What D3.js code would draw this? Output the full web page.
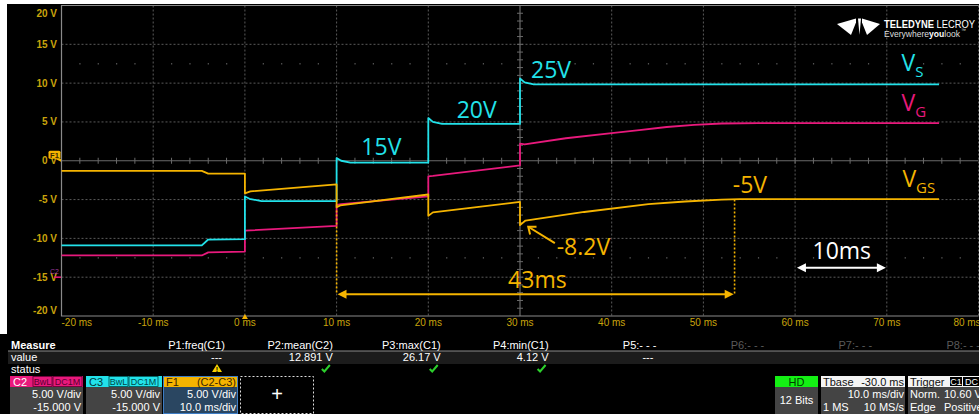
<!DOCTYPE html>
<html>
<head>
<meta charset="utf-8">
<script src="https://cdn.jsdelivr.net/npm/d3@7"></script>
<style>
  body { margin: 0; background: #000; }
  svg { display: block; }
</style>
</head>
<body>
<div id="scope"></div>
<script>
// axis ticks (ms / V)
const timeTicks = [-20, -10, 0, 10, 20, 30, 40, 50, 60, 70, 80];
const voltTicks = [20, 15, 10, 5, 0, -5, -10, -15, -20];

// traces, [time ms, displayed volts]
const vsTrace = [[-20, -10.9], [-4.7, -10.9], [-4.0, -10.15], [0, -10.1], [0, -4.6], [0.5, -4.9], [1.8, -5.2], [10, -5.2],
  [10, 0.35], [10.5, 0.0], [11.5, -0.25], [20, -0.25], [20, 5.5], [20.5, 5.0], [21.5, 4.75], [30, 4.75],
  [30, 10.6], [30.5, 10.1], [31.5, 9.85], [75.7, 9.85]];
const vgTrace = [[-20, -12.2], [-4.7, -12.2], [-4.0, -11.8], [0, -11.7], [0, -9.0], [10, -8.4],
  [10, -5.7], [10.5, -5.6], [20, -4.6], [20, -2.0], [20.5, -1.95], [30, -0.6],
  [30, 2.2], [30.5, 2.1], [35, 2.9], [40, 3.55], [43, 3.95], [46, 4.35], [49, 4.62], [52, 4.8], [56, 4.85], [75.7, 4.85]];
const vgsTrace = [[-20, -1.3], [-4.7, -1.3], [-4.0, -1.65], [0, -1.65], [0, -4.2], [0.6, -3.95], [10, -3.05],
  [10, -6.0], [10.4, -5.75], [20, -4.35], [20, -7.1], [20.5, -6.65], [30, -5.3],
  [30, -8.3], [30.6, -7.7], [37, -6.6], [44, -5.6], [48, -5.25], [52, -5.02], [54, -4.95], [75.7, -4.95]];

// measurement table
const measureNames = ["P1:freq(C1)", "P2:mean(C2)", "P3:max(C1)", "P4:min(C1)", "P5:- - -", "P6:- - -", "P7:- - -", "P8:- - -"];
const measureValues = ["---", "12.891 V", "26.17 V", "4.12 V", "---", "", "", ""];
const measureStatus = ["warn", "ok", "ok", "ok", "", "", "", ""];

// channel descriptor boxes
const chanNames = ["C2", "C3", "F1"];
const chanTags = [["BwL", "DC1M"], ["BwL", "DC1M"], ["(C2-C3)"]];
const chanLines = [["5.00 V/div", "-15.000 V"], ["5.00 V/div", "-15.000 V"], ["5.00 V/div", "10.0 ms/div"]];

const W = 979, H = 414;
const CYAN = "#22e2ea", MAGENTA = "#e8197c", YELLOW = "#f5b400", TICKCOL = "#c9a40c";

const svg = d3.select("#scope").append("svg")
    .attr("width", W)
    .attr("height", H)
    .style("font-family", "'Liberation Sans', Arial, sans-serif");

// screenshot border + black screen
svg.append("rect").attr("width", W).attr("height", H).attr("fill", "#fff");
svg.append("rect").attr("x", 7).attr("y", 4).attr("width", W - 7).attr("height", H - 4).attr("fill", "#000");
svg.append("rect").attr("x", 0).attr("y", 334).attr("width", W).attr("height", H - 334).attr("fill", "#000");

const x = d3.scaleLinear().domain([-20, 80]).range([61.5, 978.5]);
const y = d3.scaleLinear().domain([20, -20]).range([5.5, 316]);

const grid = svg.append("g");

// dotted major grid
grid.selectAll(".vg").data(timeTicks.filter(t => t !== 30 && t !== -20))
  .enter().append("line")
    .attr("x1", d => x(d)).attr("x2", d => x(d))
    .attr("y1", y(20)).attr("y2", y(-20))
    .attr("stroke", "#5a5a5a").attr("stroke-dasharray", "2,2");
grid.selectAll(".hg").data(voltTicks.filter(v => v !== 0 && v !== -20))
  .enter().append("line")
    .attr("x1", x(-20)).attr("x2", x(80))
    .attr("y1", d => y(d)).attr("y2", d => y(d))
    .attr("stroke", "#5a5a5a").attr("stroke-dasharray", "2,2");

// faint dot rows
[12.5, -12.5].forEach(v => {
  d3.range(-18, 80, 2).filter(t => t % 10 !== 0).forEach(t => {
    grid.append("rect").attr("x", x(t) - 0.5).attr("y", y(v) - 0.5)
      .attr("width", 1.2).attr("height", 1.2).attr("fill", "#6a6a6a");
  });
});

// center lines with minor ticks
grid.append("line").attr("x1", x(-20)).attr("x2", x(80)).attr("y1", y(0)).attr("y2", y(0))
  .attr("stroke", "#6a6a6a").attr("stroke-width", 1.2);
grid.append("line").attr("x1", x(30)).attr("x2", x(30)).attr("y1", y(20)).attr("y2", y(-20))
  .attr("stroke", "#6a6a6a").attr("stroke-width", 1.2);
grid.selectAll(".mt").data(d3.range(-18, 80, 2))
  .enter().append("line")
    .attr("x1", d => x(d)).attr("x2", d => x(d))
    .attr("y1", y(0) - 3).attr("y2", y(0) + 3)
    .attr("stroke", "#6a6a6a");
grid.selectAll(".mv").data(d3.range(-19, 20, 1))
  .enter().append("line")
    .attr("x1", x(30) - 3).attr("x2", x(30) + 3)
    .attr("y1", d => y(d)).attr("y2", d => y(d))
    .attr("stroke", "#6a6a6a");

// frame
grid.append("path")
  .attr("d", `M${x(80)},${y(20)}H${x(-20)}V${y(-20)}H${x(80)}`)
  .attr("fill", "none").attr("stroke", "#8a8a8a").attr("stroke-width", 1.2);

// tick labels (end labels pulled inside the screen like the scope does)
svg.append("g").selectAll("text").data(voltTicks)
  .enter().append("text")
    .attr("x", 57)
    .attr("y", d => d === 20 ? 16.5 : d === -20 ? y(d) - 2 : y(d) + 3.5)
    .attr("text-anchor", "end")
    .attr("font-size", 10).attr("font-weight", "bold")
    .attr("fill", TICKCOL)
    .text(d => d + " V");
svg.append("g").selectAll("text").data(timeTicks)
  .enter().append("text")
    .attr("x", d => d === -20 ? x(d) : Math.min(x(d), 967))
    .attr("y", 326)
    .attr("text-anchor", d => d === -20 ? "start" : "middle")
    .attr("font-size", 10)
    .attr("fill", TICKCOL)
    .text(d => d + " ms");

// traces
const line = d3.line().x(d => x(d[0])).y(d => y(d[1]));
[[vgTrace, MAGENTA], [vsTrace, CYAN], [vgsTrace, YELLOW]].forEach(([tr, col]) => {
  svg.append("path").datum(tr)
    .attr("d", line)
    .attr("fill", "none")
    .attr("stroke", col)
    .attr("stroke-width", 1.8)
    .attr("stroke-linejoin", "round");
});

// channel markers on the left edge
const f1m = svg.append("g");
f1m.append("rect").attr("x", 48.5).attr("y", y(0) - 10).attr("width", 12).attr("height", 8)
  .attr("rx", 1.5).attr("fill", YELLOW);
f1m.append("path").attr("d", `M55,${y(0) - 2}L61,${y(0) - 2}L61,${y(0) + 1}Z`).attr("fill", YELLOW);
f1m.append("text").attr("x", 54.5).attr("y", y(0) - 3.2).attr("text-anchor", "middle")
  .attr("font-size", 7.5).attr("font-weight", "bold").attr("fill", "#3a2a00").text("F1");
svg.append("text").attr("x", 50).attr("y", y(-15) - 3).attr("font-size", 7)
  .attr("fill", "#9a3a9a").text("C2");
svg.append("line").attr("x1", 54).attr("x2", 61).attr("y1", y(-15)).attr("y2", y(-15))
  .attr("stroke", MAGENTA).attr("stroke-width", 1.5);
// trigger marker
svg.append("path").attr("d", `M${x(0) - 3},${y(-20) + 3}L${x(0) + 3},${y(-20) + 3}L${x(0)},${y(-20) - 2}Z`)
  .attr("fill", YELLOW);

// annotations
const ann = svg.append("g").style("font-family", "'Open Sans', sans-serif");
function note(t, v, txt, col, size) {
  return ann.append("text").attr("x", x(t)).attr("y", y(v))
    .attr("font-size", size || 23).attr("fill", col).text(txt);
}
note(12.7, 0.7, "15V", CYAN);
note(23.1, 5.45, "20V", CYAN);
note(31.2, 10.6, "25V", CYAN);
note(53.2, -4.15, "-5V", YELLOW);
note(34.0, -12.1, "-8.2V", YELLOW);
note(28.7, -16.4, "43ms", YELLOW);
note(61.9, -12.6, "10ms", "#fff");

function subLabel(t, v, main, sub, col) {
  const tx = ann.append("text").attr("x", x(t)).attr("y", y(v)).attr("fill", col);
  tx.append("tspan").attr("font-size", 23).text(main);
  tx.append("tspan").attr("font-size", 15).attr("dy", 6).text(sub);
}
subLabel(71.6, 11.6, "V", "S", CYAN);
subLabel(71.6, 6.4, "V", "G", MAGENTA);
subLabel(71.7, -3.4, "V", "GS", YELLOW);

// -8.2V pointer
svg.append("line").attr("x1", x(33.8)).attr("y1", y(-10.6)).attr("x2", x(30.9)).attr("y2", y(-8.5))
  .attr("stroke", YELLOW).attr("stroke-width", 2);
svg.append("path")
  .attr("d", `M${x(31.8)},${y(-8.5)}L${x(30.9)},${y(-8.5)}L${x(31.1)},${y(-9.5)}`)
  .attr("fill", "none").attr("stroke", YELLOW).attr("stroke-width", 2);

// 43 ms span
svg.append("line").attr("x1", x(10)).attr("x2", x(10)).attr("y1", y(-6.4)).attr("y2", y(-17.1))
  .attr("stroke", YELLOW).attr("stroke-width", 1.6).attr("stroke-dasharray", "2,2");
svg.append("line").attr("x1", x(53.4)).attr("x2", x(53.4)).attr("y1", y(-5)).attr("y2", y(-17.1))
  .attr("stroke", YELLOW).attr("stroke-width", 1.6).attr("stroke-dasharray", "2,2");
function hArrow(t0, t1, v, col) {
  const yy = y(v), a = x(t0), b = x(t1);
  svg.append("line").attr("x1", a + 6).attr("x2", b - 6).attr("y1", yy).attr("y2", yy)
    .attr("stroke", col).attr("stroke-width", 2);
  svg.append("path").attr("d", `M${a},${yy}L${a + 9},${yy - 4.5}L${a + 9},${yy + 4.5}Z`).attr("fill", col);
  svg.append("path").attr("d", `M${b},${yy}L${b - 9},${yy - 4.5}L${b - 9},${yy + 4.5}Z`).attr("fill", col);
}
hArrow(10.1, 53.3, -17.2, YELLOW);
hArrow(60.2, 69.9, -13.8, "#fff");

// logo
const logo = svg.append("g");
logo.append("path").attr("d", "M837,24 L856,18.5 L856,22.5 L851,35 Z").attr("fill", "#fff");
logo.append("path").attr("d", "M858,18.5 L859.5,35 L861,18.5 Z").attr("fill", "#fff");
logo.append("path").attr("d", "M880,24 L862,18.5 L862,22.5 L867,35 Z").attr("fill", "#fff");
const lt = logo.append("text").attr("x", 884).attr("y", 27.5).attr("font-size", 10.5).attr("fill", "#fff")
  .attr("textLength", 91).attr("lengthAdjust", "spacingAndGlyphs");
lt.append("tspan").attr("font-weight", "bold").text("TELEDYNE ");
lt.append("tspan").text("LECROY");
const lt2 = logo.append("text").attr("x", 884).attr("y", 36.5).attr("font-size", 9).attr("fill", "#ddd")
  .attr("textLength", 76).attr("lengthAdjust", "spacingAndGlyphs");
lt2.append("tspan").text("Everywhere");
lt2.append("tspan").attr("font-weight", "bold").attr("fill", "#fff").text("you");
lt2.append("tspan").text("look");
logo.append("text").attr("x", 961).attr("y", 32).attr("font-size", 5).attr("fill", "#ddd").text("™");

// ---- measurement table ----
const panel = svg.append("g").attr("font-size", 11);
panel.append("rect").attr("x", 8).attr("y", 351).attr("width", W - 8).attr("height", 13).attr("fill", "#1c1c1c");
panel.append("line").attr("x1", 8).attr("x2", W).attr("y1", 351).attr("y2", 351).attr("stroke", "#8a8a8a");
panel.append("text").attr("x", 11).attr("y", 349).attr("font-weight", "bold").attr("fill", "#fff").text("Measure");
panel.append("text").attr("x", 11).attr("y", 361).attr("fill", "#fff").text("value");
panel.append("text").attr("x", 11).attr("y", 373).attr("fill", "#fff").text("status");

const colEnd = d3.scaleLinear().domain([0, 7]).range([225, 980]);
panel.selectAll(".mh").data(measureNames)
  .enter().append("text")
    .attr("x", (d, i) => colEnd(i)).attr("y", 349)
    .attr("text-anchor", "end")
    .attr("fill", (d, i) => i > 4 ? "#5a5a5a" : "#fff")
    .text(d => d);
panel.selectAll(".mv").data(measureValues)
  .enter().append("text")
    .attr("x", (d, i) => d === "---" ? colEnd(i) - 3 : colEnd(i)).attr("y", 361)
    .attr("text-anchor", "end")
    .attr("fill", "#fff")
    .text(d => d);
measureStatus.forEach((s, i) => {
  const cx = colEnd(i) - (i === 0 ? 8 : 7);
  if (s === "warn") {
    panel.append("path").attr("d", `M${cx},${364}L${cx + 5},${372}L${cx - 5},${372}Z`).attr("fill", "#f5d000");
    panel.append("text").attr("x", cx).attr("y", 371.5).attr("text-anchor", "middle")
      .attr("font-size", 7).attr("font-weight", "bold").attr("fill", "#000").text("!");
  } else if (s === "ok") {
    panel.append("path").attr("d", `M${cx - 4},${369}L${cx - 1.5},${371.5}L${cx + 4},${365}`)
      .attr("fill", "none").attr("stroke", "#2ccf2c").attr("stroke-width", 2);
  }
});

// channel boxes
const boxX = [10, 86, 163], boxW = [73, 76, 75];
const headCol = [MAGENTA, CYAN, YELLOW], headText = ["#fff", "#003a3a", "#3a2400"];
const tagText = ["#5a0030", "#004848", "#3a2400"];
chanNames.forEach((nm, i) => {
  const g = panel.append("g");
  const bx = boxX[i], bw = boxW[i];
  g.append("rect").attr("x", bx).attr("y", 387).attr("width", bw).attr("height", 27)
    .attr("fill", i === 2 ? "#2a4661" : "#444");
  g.append("rect").attr("x", bx).attr("y", 376).attr("width", bw).attr("height", 11).attr("fill", headCol[i]);
  if (i === 2) {
    g.append("rect").attr("x", bx + 0.5).attr("y", 376.5).attr("width", bw - 1).attr("height", 37)
      .attr("fill", "none").attr("stroke", "#3d7cc4");
  }
  g.append("text").attr("x", bx + 3).attr("y", 386).attr("fill", headText[i]).text(nm);
  if (i < 2) {
    let tx = bx + 23;
    chanTags[i].forEach((tg, k) => {
      const w = k === 0 ? 19 : 29;
      g.append("rect").attr("x", tx).attr("y", 376.5).attr("width", w).attr("height", 10)
        .attr("fill", "none").attr("stroke", tagText[i]).attr("stroke-width", 0.8);
      g.append("text").attr("x", tx + w / 2).attr("y", 385).attr("text-anchor", "middle")
        .attr("font-size", 9).attr("fill", tagText[i]).text(tg);
      tx += w + 1;
    });
  } else {
    g.append("text").attr("x", bx + bw - 2).attr("y", 386).attr("text-anchor", "end")
      .attr("fill", tagText[i]).text(chanTags[i][0]);
  }
  chanLines[i].forEach((ln, k) => {
    g.append("text").attr("x", bx + bw - 2).attr("y", 398 + k * 13).attr("text-anchor", "end")
      .attr("fill", "#fff").text(ln);
  });
});

// "+" box
panel.append("rect").attr("x", 240.5).attr("y", 376.5).attr("width", 73).attr("height", 37)
  .attr("fill", "none").attr("stroke", "#ddd").attr("stroke-dasharray", "2,2");
panel.append("text").attr("x", 277).attr("y", 401).attr("text-anchor", "middle")
  .attr("font-size", 20).attr("fill", "#fff").text("+");

// HD box
panel.append("rect").attr("x", 775).attr("y", 376).attr("width", 43).attr("height", 38).attr("fill", "#444");
panel.append("rect").attr("x", 775).attr("y", 376).attr("width", 43).attr("height", 11).attr("fill", "#14f014");
panel.append("text").attr("x", 796.5).attr("y", 386).attr("text-anchor", "middle").attr("fill", "#003a00").text("HD");
panel.append("text").attr("x", 796.5).attr("y", 404).attr("text-anchor", "middle").attr("fill", "#fff").text("12 Bits");

// Tbase box
panel.append("rect").attr("x", 821).attr("y", 376).attr("width", 84).attr("height", 38).attr("fill", "#444");
panel.append("rect").attr("x", 821).attr("y", 376).attr("width", 84).attr("height", 11).attr("fill", "#f4f4f4");
panel.append("text").attr("x", 823).attr("y", 386).attr("fill", "#111").text("Tbase");
panel.append("text").attr("x", 904).attr("y", 386).attr("text-anchor", "end").attr("fill", "#111").text("-30.0 ms");
panel.append("text").attr("x", 904).attr("y", 398).attr("text-anchor", "end").attr("fill", "#fff").text("10.0 ms/div");
panel.append("text").attr("x", 823).attr("y", 411).attr("fill", "#fff").text("1 MS");
panel.append("text").attr("x", 904).attr("y", 411).attr("text-anchor", "end").attr("fill", "#fff").text("10 MS/s");

// Trigger box
panel.append("rect").attr("x", 908).attr("y", 376).attr("width", 71).attr("height", 38).attr("fill", "#444");
panel.append("rect").attr("x", 908).attr("y", 376).attr("width", 71).attr("height", 11).attr("fill", "#f4f4f4");
panel.append("text").attr("x", 910).attr("y", 386).attr("fill", "#111").text("Trigger");
panel.append("rect").attr("x", 950).attr("y", 377).attr("width", 12).attr("height", 9).attr("fill", "#000");
panel.append("rect").attr("x", 963).attr("y", 377).attr("width", 16).attr("height", 9).attr("fill", "#000");
panel.append("text").attr("x", 956).attr("y", 385).attr("text-anchor", "middle").attr("font-size", 9).attr("fill", "#fff").text("C1");
panel.append("text").attr("x", 965).attr("y", 385).attr("font-size", 9).attr("fill", "#fff").text("DC");
panel.append("text").attr("x", 910).attr("y", 398).attr("fill", "#fff").text("Norm.");
panel.append("text").attr("x", 944).attr("y", 398).attr("fill", "#fff").text("10.60 V");
panel.append("text").attr("x", 910).attr("y", 411).attr("fill", "#fff").text("Edge");
panel.append("text").attr("x", 944).attr("y", 411).attr("fill", "#fff").text("Positive");
</script>
</body>
</html>
